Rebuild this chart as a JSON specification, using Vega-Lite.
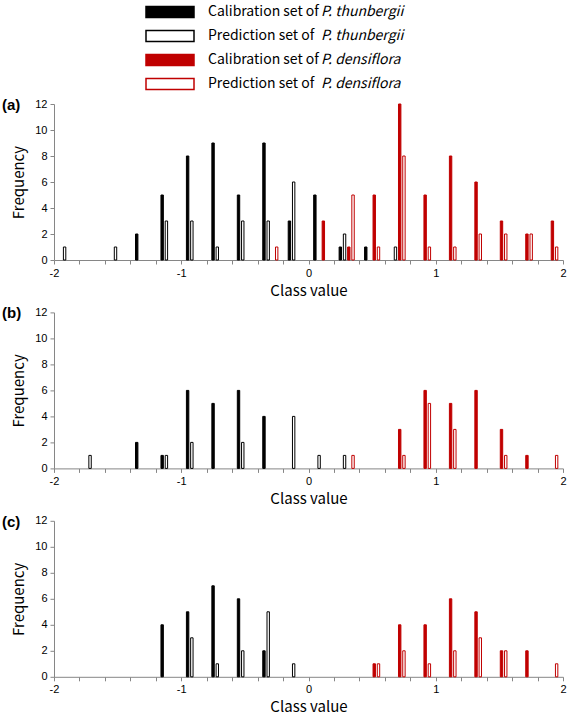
{
  "$schema": "https://vega.github.io/schema/vega-lite/v6.json",
  "padding": {"left": 2, "top": 5, "right": 0, "bottom": 0},
  "bounds": "flush",
  "spacing": 52.4,
  "background": "white",
  "resolve": {"scale": {"x": "independent"}},
  "config": {
    "view": {"stroke": null},
    "axis": {"domainColor": "#868686", "tickColor": "#868686", "tickSize": 4, "grid": false, "labelFont": "Liberation Sans", "labelFontSize": 11, "labelColor": "#000000", "titleFont": "Noto Sans CJK JP", "titleFontSize": 15, "titleFontWeight": "normal", "titleColor": "#000000"},
    "legend": {"labelFont": "Noto Sans CJK JP", "labelFontSize": 14, "labelColor": "#000000", "labelLimit": 400}
  },
  "data": {"values": [
    {"panel": "(a)", "series": "Calibration set of P. thunbergii", "class": -1.3, "freq": 2},
    {"panel": "(a)", "series": "Calibration set of P. thunbergii", "class": -1.1, "freq": 5},
    {"panel": "(a)", "series": "Calibration set of P. thunbergii", "class": -0.9, "freq": 8},
    {"panel": "(a)", "series": "Calibration set of P. thunbergii", "class": -0.7, "freq": 9},
    {"panel": "(a)", "series": "Calibration set of P. thunbergii", "class": -0.5, "freq": 5},
    {"panel": "(a)", "series": "Calibration set of P. thunbergii", "class": -0.3, "freq": 9},
    {"panel": "(a)", "series": "Calibration set of P. thunbergii", "class": -0.1, "freq": 3},
    {"panel": "(a)", "series": "Calibration set of P. thunbergii", "class": 0.1, "freq": 5},
    {"panel": "(a)", "series": "Calibration set of P. thunbergii", "class": 0.3, "freq": 1},
    {"panel": "(a)", "series": "Calibration set of P. thunbergii", "class": 0.5, "freq": 1},
    {"panel": "(a)", "series": "Prediction set of P. thunbergii", "class": -1.9, "freq": 1},
    {"panel": "(a)", "series": "Prediction set of P. thunbergii", "class": -1.5, "freq": 1},
    {"panel": "(a)", "series": "Prediction set of P. thunbergii", "class": -1.1, "freq": 3},
    {"panel": "(a)", "series": "Prediction set of P. thunbergii", "class": -0.9, "freq": 3},
    {"panel": "(a)", "series": "Prediction set of P. thunbergii", "class": -0.7, "freq": 1},
    {"panel": "(a)", "series": "Prediction set of P. thunbergii", "class": -0.5, "freq": 3},
    {"panel": "(a)", "series": "Prediction set of P. thunbergii", "class": -0.3, "freq": 3},
    {"panel": "(a)", "series": "Prediction set of P. thunbergii", "class": -0.1, "freq": 6},
    {"panel": "(a)", "series": "Prediction set of P. thunbergii", "class": 0.3, "freq": 2},
    {"panel": "(a)", "series": "Prediction set of P. thunbergii", "class": 0.7, "freq": 1},
    {"panel": "(a)", "series": "Calibration set of P. densiflora", "class": 0.1, "freq": 3},
    {"panel": "(a)", "series": "Calibration set of P. densiflora", "class": 0.3, "freq": 1},
    {"panel": "(a)", "series": "Calibration set of P. densiflora", "class": 0.5, "freq": 5},
    {"panel": "(a)", "series": "Calibration set of P. densiflora", "class": 0.7, "freq": 12},
    {"panel": "(a)", "series": "Calibration set of P. densiflora", "class": 0.9, "freq": 5},
    {"panel": "(a)", "series": "Calibration set of P. densiflora", "class": 1.1, "freq": 8},
    {"panel": "(a)", "series": "Calibration set of P. densiflora", "class": 1.3, "freq": 6},
    {"panel": "(a)", "series": "Calibration set of P. densiflora", "class": 1.5, "freq": 3},
    {"panel": "(a)", "series": "Calibration set of P. densiflora", "class": 1.7, "freq": 2},
    {"panel": "(a)", "series": "Calibration set of P. densiflora", "class": 1.9, "freq": 3},
    {"panel": "(a)", "series": "Prediction set of P. densiflora", "class": -0.3, "freq": 1},
    {"panel": "(a)", "series": "Prediction set of P. densiflora", "class": 0.3, "freq": 5},
    {"panel": "(a)", "series": "Prediction set of P. densiflora", "class": 0.5, "freq": 1},
    {"panel": "(a)", "series": "Prediction set of P. densiflora", "class": 0.7, "freq": 8},
    {"panel": "(a)", "series": "Prediction set of P. densiflora", "class": 0.9, "freq": 1},
    {"panel": "(a)", "series": "Prediction set of P. densiflora", "class": 1.1, "freq": 1},
    {"panel": "(a)", "series": "Prediction set of P. densiflora", "class": 1.3, "freq": 2},
    {"panel": "(a)", "series": "Prediction set of P. densiflora", "class": 1.5, "freq": 2},
    {"panel": "(a)", "series": "Prediction set of P. densiflora", "class": 1.7, "freq": 2},
    {"panel": "(a)", "series": "Prediction set of P. densiflora", "class": 1.9, "freq": 1},
    {"panel": "(b)", "series": "Calibration set of P. thunbergii", "class": -1.3, "freq": 2},
    {"panel": "(b)", "series": "Calibration set of P. thunbergii", "class": -1.1, "freq": 1},
    {"panel": "(b)", "series": "Calibration set of P. thunbergii", "class": -0.9, "freq": 6},
    {"panel": "(b)", "series": "Calibration set of P. thunbergii", "class": -0.7, "freq": 5},
    {"panel": "(b)", "series": "Calibration set of P. thunbergii", "class": -0.5, "freq": 6},
    {"panel": "(b)", "series": "Calibration set of P. thunbergii", "class": -0.3, "freq": 4},
    {"panel": "(b)", "series": "Prediction set of P. thunbergii", "class": -1.7, "freq": 1},
    {"panel": "(b)", "series": "Prediction set of P. thunbergii", "class": -1.1, "freq": 1},
    {"panel": "(b)", "series": "Prediction set of P. thunbergii", "class": -0.9, "freq": 2},
    {"panel": "(b)", "series": "Prediction set of P. thunbergii", "class": -0.5, "freq": 2},
    {"panel": "(b)", "series": "Prediction set of P. thunbergii", "class": -0.1, "freq": 4},
    {"panel": "(b)", "series": "Prediction set of P. thunbergii", "class": 0.1, "freq": 1},
    {"panel": "(b)", "series": "Prediction set of P. thunbergii", "class": 0.3, "freq": 1},
    {"panel": "(b)", "series": "Calibration set of P. densiflora", "class": 0.7, "freq": 3},
    {"panel": "(b)", "series": "Calibration set of P. densiflora", "class": 0.9, "freq": 6},
    {"panel": "(b)", "series": "Calibration set of P. densiflora", "class": 1.1, "freq": 5},
    {"panel": "(b)", "series": "Calibration set of P. densiflora", "class": 1.3, "freq": 6},
    {"panel": "(b)", "series": "Calibration set of P. densiflora", "class": 1.5, "freq": 3},
    {"panel": "(b)", "series": "Calibration set of P. densiflora", "class": 1.7, "freq": 1},
    {"panel": "(b)", "series": "Prediction set of P. densiflora", "class": 0.3, "freq": 1},
    {"panel": "(b)", "series": "Prediction set of P. densiflora", "class": 0.7, "freq": 1},
    {"panel": "(b)", "series": "Prediction set of P. densiflora", "class": 0.9, "freq": 5},
    {"panel": "(b)", "series": "Prediction set of P. densiflora", "class": 1.1, "freq": 3},
    {"panel": "(b)", "series": "Prediction set of P. densiflora", "class": 1.5, "freq": 1},
    {"panel": "(b)", "series": "Prediction set of P. densiflora", "class": 1.9, "freq": 1},
    {"panel": "(c)", "series": "Calibration set of P. thunbergii", "class": -1.1, "freq": 4},
    {"panel": "(c)", "series": "Calibration set of P. thunbergii", "class": -0.9, "freq": 5},
    {"panel": "(c)", "series": "Calibration set of P. thunbergii", "class": -0.7, "freq": 7},
    {"panel": "(c)", "series": "Calibration set of P. thunbergii", "class": -0.5, "freq": 6},
    {"panel": "(c)", "series": "Calibration set of P. thunbergii", "class": -0.3, "freq": 2},
    {"panel": "(c)", "series": "Prediction set of P. thunbergii", "class": -0.9, "freq": 3},
    {"panel": "(c)", "series": "Prediction set of P. thunbergii", "class": -0.7, "freq": 1},
    {"panel": "(c)", "series": "Prediction set of P. thunbergii", "class": -0.5, "freq": 2},
    {"panel": "(c)", "series": "Prediction set of P. thunbergii", "class": -0.3, "freq": 5},
    {"panel": "(c)", "series": "Prediction set of P. thunbergii", "class": -0.1, "freq": 1},
    {"panel": "(c)", "series": "Calibration set of P. densiflora", "class": 0.5, "freq": 1},
    {"panel": "(c)", "series": "Calibration set of P. densiflora", "class": 0.7, "freq": 4},
    {"panel": "(c)", "series": "Calibration set of P. densiflora", "class": 0.9, "freq": 4},
    {"panel": "(c)", "series": "Calibration set of P. densiflora", "class": 1.1, "freq": 6},
    {"panel": "(c)", "series": "Calibration set of P. densiflora", "class": 1.3, "freq": 5},
    {"panel": "(c)", "series": "Calibration set of P. densiflora", "class": 1.5, "freq": 2},
    {"panel": "(c)", "series": "Calibration set of P. densiflora", "class": 1.7, "freq": 2},
    {"panel": "(c)", "series": "Prediction set of P. densiflora", "class": 0.5, "freq": 1},
    {"panel": "(c)", "series": "Prediction set of P. densiflora", "class": 0.7, "freq": 2},
    {"panel": "(c)", "series": "Prediction set of P. densiflora", "class": 0.9, "freq": 1},
    {"panel": "(c)", "series": "Prediction set of P. densiflora", "class": 1.1, "freq": 2},
    {"panel": "(c)", "series": "Prediction set of P. densiflora", "class": 1.3, "freq": 3},
    {"panel": "(c)", "series": "Prediction set of P. densiflora", "class": 1.5, "freq": 2},
    {"panel": "(c)", "series": "Prediction set of P. densiflora", "class": 1.9, "freq": 1}
  ]},
  "vconcat": [
    {
      "title": {"text": "(a)", "anchor": "start", "frame": "group", "dx": -52, "dy": 22, "font": "Liberation Sans", "fontSize": 15, "fontWeight": "bold", "color": "#000000", "offset": 0, "baseline": "middle"},
      "width": 509, "height": 156,
      "transform": [{"filter": "datum.panel == '(a)'"}],
      "resolve": {"scale": {"x": "independent"}},
      "layer": [
        {
          "mark": {"type": "bar", "orient": "vertical", "width": 2.4, "strokeWidth": 1},
          "encoding": {
            "x": {"field": "class", "type": "ordinal", "scale": {"domain": [-1.9, -1.7, -1.5, -1.3, -1.1, -0.9, -0.7, -0.5, -0.3, -0.1, 0.1, 0.3, 0.5, 0.7, 0.9, 1.1, 1.3, 1.5, 1.7, 1.9], "paddingInner": 0, "paddingOuter": 0}, "axis": null},
            "xOffset": {"field": "series", "type": "nominal", "scale": {"domain": ["Calibration set of P. thunbergii", "Prediction set of P. thunbergii", "Calibration set of P. densiflora", "Prediction set of P. densiflora"], "paddingInner": 0, "paddingOuter": 1.82}},
            "y": {"field": "freq", "type": "quantitative", "stack": null, "scale": {"domain": [0, 12], "nice": false}, "axis": {"title": "Frequency", "values": [0, 2, 4, 6, 8, 10, 12], "labelPadding": 3, "titlePadding": 8}},
            "fill": {"field": "series", "type": "nominal", "scale": {"domain": ["Calibration set of P. thunbergii", "Prediction set of P. thunbergii", "Calibration set of P. densiflora", "Prediction set of P. densiflora"], "range": ["#000000", "#ffffff", "#C00000", "#ffffff"]}, "legend": {"orient": "none", "legendX": 109, "legendY": -99, "title": null, "symbolType": "M-4.8,-1.1H4.8V1.1H-4.8Z", "symbolSize": 100, "symbolStrokeWidth": 1.5, "labelOffset": 31, "rowPadding": 6, "labelExpr": "split(datum.label, ' P.')[0]"}},
            "stroke": {"field": "series", "type": "nominal", "scale": {"domain": ["Calibration set of P. thunbergii", "Prediction set of P. thunbergii", "Calibration set of P. densiflora", "Prediction set of P. densiflora"], "range": ["#000000", "#000000", "#C00000", "#C00000"]}, "legend": {"orient": "none", "legendX": 109, "legendY": -99, "title": null, "symbolType": "M-4.8,-1.1H4.8V1.1H-4.8Z", "symbolSize": 100, "symbolStrokeWidth": 1.5, "labelOffset": 31, "rowPadding": 6, "labelExpr": "split(datum.label, ' P.')[0]"}},
            "opacity": {"field": "series", "type": "nominal", "sort": ["Calibration set of P. thunbergii", "Prediction set of P. thunbergii", "Calibration set of P. densiflora", "Prediction set of P. densiflora"], "scale": {"range": [1, 1, 1, 1]}, "legend": {"orient": "none", "legendX": 222, "legendY": -99, "title": null, "symbolType": "M-4.8,-1.1H4.8V1.1H-4.8Z", "symbolSize": 100, "symbolStrokeWidth": 1.5, "symbolFillColor": "transparent", "symbolStrokeColor": "transparent", "labelOffset": 31, "rowPadding": 6, "labelFontStyle": "italic", "labelExpr": "'P.' + split(datum.label, ' P.')[1]"}}
          }
        },
        {
          "mark": {"type": "point", "opacity": 0},
          "encoding": {
            "x": {"field": "class", "type": "quantitative", "scale": {"domain": [-2, 2], "nice": false, "padding": 0}, "axis": {"orient": "bottom", "title": "Class value", "values": [-2, -1.8, -1.6, -1.4, -1.2, -1, -0.8, -0.6, -0.4, -0.2, 0, 0.2, 0.4, 0.6, 0.8, 1, 1.2, 1.4, 1.6, 1.8, 2], "labelExpr": "abs(datum.value - round(datum.value)) < 0.01 ? '' + round(datum.value) : ''", "labelPadding": 3, "titlePadding": 5, "labelOverlap": false, "labelFlush": false}}
          }
        }
      ]
    },
    {
      "title": {"text": "(b)", "anchor": "start", "frame": "group", "dx": -52, "dy": 22, "font": "Liberation Sans", "fontSize": 15, "fontWeight": "bold", "color": "#000000", "offset": 0, "baseline": "middle"},
      "width": 509, "height": 156,
      "transform": [{"filter": "datum.panel == '(b)'"}],
      "resolve": {"scale": {"x": "independent"}},
      "layer": [
        {
          "mark": {"type": "bar", "orient": "vertical", "width": 2.4, "strokeWidth": 1},
          "encoding": {
            "x": {"field": "class", "type": "ordinal", "scale": {"domain": [-1.9, -1.7, -1.5, -1.3, -1.1, -0.9, -0.7, -0.5, -0.3, -0.1, 0.1, 0.3, 0.5, 0.7, 0.9, 1.1, 1.3, 1.5, 1.7, 1.9], "paddingInner": 0, "paddingOuter": 0}, "axis": null},
            "xOffset": {"field": "series", "type": "nominal", "scale": {"domain": ["Calibration set of P. thunbergii", "Prediction set of P. thunbergii", "Calibration set of P. densiflora", "Prediction set of P. densiflora"], "paddingInner": 0, "paddingOuter": 1.82}},
            "y": {"field": "freq", "type": "quantitative", "stack": null, "scale": {"domain": [0, 12], "nice": false}, "axis": {"title": "Frequency", "values": [0, 2, 4, 6, 8, 10, 12], "labelPadding": 3, "titlePadding": 8}},
            "fill": {"field": "series", "type": "nominal", "scale": {"domain": ["Calibration set of P. thunbergii", "Prediction set of P. thunbergii", "Calibration set of P. densiflora", "Prediction set of P. densiflora"], "range": ["#000000", "#ffffff", "#C00000", "#ffffff"]}, "legend": {"orient": "none", "legendX": 109, "legendY": -99, "title": null, "symbolType": "M-4.8,-1.1H4.8V1.1H-4.8Z", "symbolSize": 100, "symbolStrokeWidth": 1.5, "labelOffset": 31, "rowPadding": 6, "labelExpr": "split(datum.label, ' P.')[0]"}},
            "stroke": {"field": "series", "type": "nominal", "scale": {"domain": ["Calibration set of P. thunbergii", "Prediction set of P. thunbergii", "Calibration set of P. densiflora", "Prediction set of P. densiflora"], "range": ["#000000", "#000000", "#C00000", "#C00000"]}, "legend": {"orient": "none", "legendX": 109, "legendY": -99, "title": null, "symbolType": "M-4.8,-1.1H4.8V1.1H-4.8Z", "symbolSize": 100, "symbolStrokeWidth": 1.5, "labelOffset": 31, "rowPadding": 6, "labelExpr": "split(datum.label, ' P.')[0]"}},
            "opacity": {"field": "series", "type": "nominal", "sort": ["Calibration set of P. thunbergii", "Prediction set of P. thunbergii", "Calibration set of P. densiflora", "Prediction set of P. densiflora"], "scale": {"range": [1, 1, 1, 1]}, "legend": {"orient": "none", "legendX": 222, "legendY": -99, "title": null, "symbolType": "M-4.8,-1.1H4.8V1.1H-4.8Z", "symbolSize": 100, "symbolStrokeWidth": 1.5, "symbolFillColor": "transparent", "symbolStrokeColor": "transparent", "labelOffset": 31, "rowPadding": 6, "labelFontStyle": "italic", "labelExpr": "'P.' + split(datum.label, ' P.')[1]"}}
          }
        },
        {
          "mark": {"type": "point", "opacity": 0},
          "encoding": {
            "x": {"field": "class", "type": "quantitative", "scale": {"domain": [-2, 2], "nice": false, "padding": 0}, "axis": {"orient": "bottom", "title": "Class value", "values": [-2, -1.8, -1.6, -1.4, -1.2, -1, -0.8, -0.6, -0.4, -0.2, 0, 0.2, 0.4, 0.6, 0.8, 1, 1.2, 1.4, 1.6, 1.8, 2], "labelExpr": "abs(datum.value - round(datum.value)) < 0.01 ? '' + round(datum.value) : ''", "labelPadding": 3, "titlePadding": 5, "labelOverlap": false, "labelFlush": false}}
          }
        }
      ]
    },
    {
      "title": {"text": "(c)", "anchor": "start", "frame": "group", "dx": -52, "dy": 22, "font": "Liberation Sans", "fontSize": 15, "fontWeight": "bold", "color": "#000000", "offset": 0, "baseline": "middle"},
      "width": 509, "height": 156,
      "transform": [{"filter": "datum.panel == '(c)'"}],
      "resolve": {"scale": {"x": "independent"}},
      "layer": [
        {
          "mark": {"type": "bar", "orient": "vertical", "width": 2.4, "strokeWidth": 1},
          "encoding": {
            "x": {"field": "class", "type": "ordinal", "scale": {"domain": [-1.9, -1.7, -1.5, -1.3, -1.1, -0.9, -0.7, -0.5, -0.3, -0.1, 0.1, 0.3, 0.5, 0.7, 0.9, 1.1, 1.3, 1.5, 1.7, 1.9], "paddingInner": 0, "paddingOuter": 0}, "axis": null},
            "xOffset": {"field": "series", "type": "nominal", "scale": {"domain": ["Calibration set of P. thunbergii", "Prediction set of P. thunbergii", "Calibration set of P. densiflora", "Prediction set of P. densiflora"], "paddingInner": 0, "paddingOuter": 1.82}},
            "y": {"field": "freq", "type": "quantitative", "stack": null, "scale": {"domain": [0, 12], "nice": false}, "axis": {"title": "Frequency", "values": [0, 2, 4, 6, 8, 10, 12], "labelPadding": 3, "titlePadding": 8}},
            "fill": {"field": "series", "type": "nominal", "scale": {"domain": ["Calibration set of P. thunbergii", "Prediction set of P. thunbergii", "Calibration set of P. densiflora", "Prediction set of P. densiflora"], "range": ["#000000", "#ffffff", "#C00000", "#ffffff"]}, "legend": {"orient": "none", "legendX": 109, "legendY": -99, "title": null, "symbolType": "M-4.8,-1.1H4.8V1.1H-4.8Z", "symbolSize": 100, "symbolStrokeWidth": 1.5, "labelOffset": 31, "rowPadding": 6, "labelExpr": "split(datum.label, ' P.')[0]"}},
            "stroke": {"field": "series", "type": "nominal", "scale": {"domain": ["Calibration set of P. thunbergii", "Prediction set of P. thunbergii", "Calibration set of P. densiflora", "Prediction set of P. densiflora"], "range": ["#000000", "#000000", "#C00000", "#C00000"]}, "legend": {"orient": "none", "legendX": 109, "legendY": -99, "title": null, "symbolType": "M-4.8,-1.1H4.8V1.1H-4.8Z", "symbolSize": 100, "symbolStrokeWidth": 1.5, "labelOffset": 31, "rowPadding": 6, "labelExpr": "split(datum.label, ' P.')[0]"}},
            "opacity": {"field": "series", "type": "nominal", "sort": ["Calibration set of P. thunbergii", "Prediction set of P. thunbergii", "Calibration set of P. densiflora", "Prediction set of P. densiflora"], "scale": {"range": [1, 1, 1, 1]}, "legend": {"orient": "none", "legendX": 222, "legendY": -99, "title": null, "symbolType": "M-4.8,-1.1H4.8V1.1H-4.8Z", "symbolSize": 100, "symbolStrokeWidth": 1.5, "symbolFillColor": "transparent", "symbolStrokeColor": "transparent", "labelOffset": 31, "rowPadding": 6, "labelFontStyle": "italic", "labelExpr": "'P.' + split(datum.label, ' P.')[1]"}}
          }
        },
        {
          "mark": {"type": "point", "opacity": 0},
          "encoding": {
            "x": {"field": "class", "type": "quantitative", "scale": {"domain": [-2, 2], "nice": false, "padding": 0}, "axis": {"orient": "bottom", "title": "Class value", "values": [-2, -1.8, -1.6, -1.4, -1.2, -1, -0.8, -0.6, -0.4, -0.2, 0, 0.2, 0.4, 0.6, 0.8, 1, 1.2, 1.4, 1.6, 1.8, 2], "labelExpr": "abs(datum.value - round(datum.value)) < 0.01 ? '' + round(datum.value) : ''", "labelPadding": 3, "titlePadding": 5, "labelOverlap": false, "labelFlush": false}}
          }
        }
      ]
    }
  ]
}
